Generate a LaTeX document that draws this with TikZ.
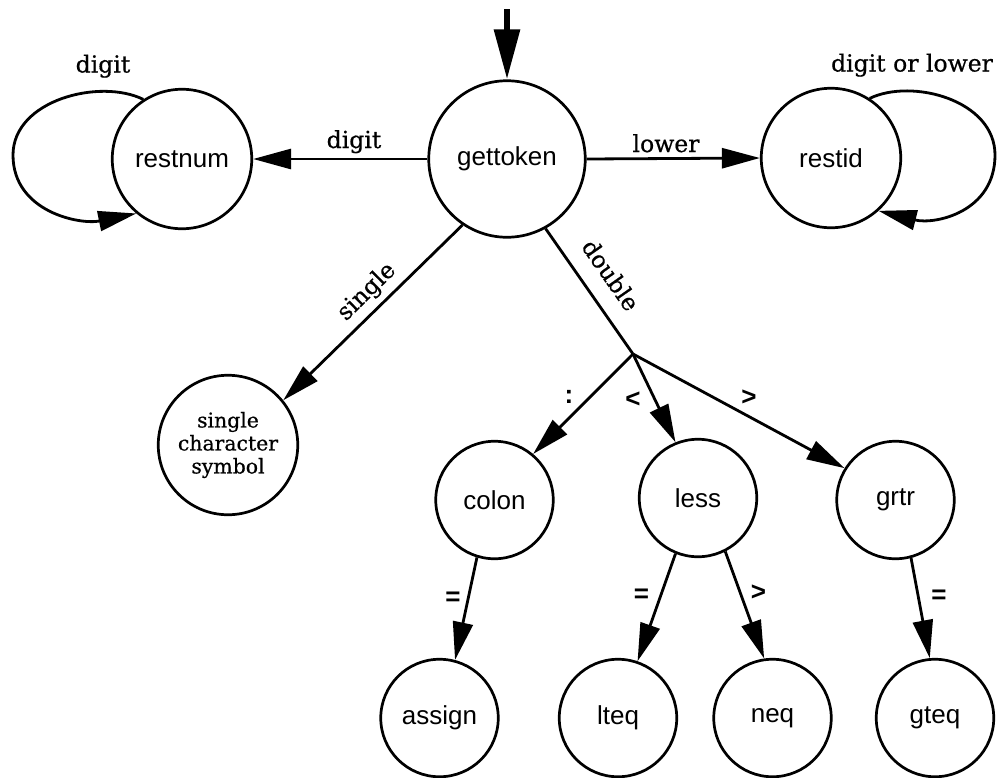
\documentclass[tikz,border=0pt]{standalone}
\usepackage{fontspec}
\setmainfont{DejaVu Serif}
\newfontfamily\labfont{DejaVu Serif}[FakeBold=0.6]
\newfontfamily\helv{Liberation Sans}
\usetikzlibrary{arrows.meta}
\begin{document}
\begin{tikzpicture}[x=1pt,y=-1pt,
  st/.style={circle, draw, line width=2.7pt, inner sep=0pt, font=\helv\fontsize{26}{28}\selectfont},
  bigst/.style={st, minimum size=139.5pt},
  smallst/.style={st, minimum size=117.5pt},
  edge/.style={line width=2.8pt, -{Triangle[length=38pt,width=20pt]}},
  plain/.style={line width=2.8pt},
  lab/.style={font=\labfont\fontsize{23.5}{26}\selectfont},
  sym/.style={font=\helv\bfseries\fontsize{26}{28}\selectfont},
]
\useasboundingbox (0,0) rectangle (998,777);
% states
\node[st, minimum size=156.5pt] (gt) at (507,159) {gettoken};
\node[bigst] (rn) at (182,159) {restnum};
\node[bigst] (ri) at (831,158) {restid};
\node[bigst, font=\labfont\fontsize{20.4}{23}\selectfont, align=center] (sc) at (228,445) {single\\character\\symbol};
\node[smallst] (co) at (494.5,500) {colon};
\node[smallst] (le) at (698,498) {less};
\node[smallst] (gr) at (895.5,500) {grtr};
\node[smallst] (as) at (439.5,718) {assign};
\node[smallst] (lt) at (618,718) {lteq};
\node[smallst] (ne) at (772.5,718) {neq};
\node[smallst] (ge) at (935,718) {gteq};
\coordinate (top) at (507,9);
\coordinate (j) at (633,354);
% connectors
\draw[line width=6pt, -{Triangle[length=50pt,width=25pt]}] (top) -- (gt);
\draw[edge] (gt.west) -- (rn.east);
\draw[edge] (gt.east) -- (ri.west);
\draw[edge] (rn.123) .. controls (100,78) and (13,100) .. (13,155)
                     .. controls (13,212) and (80,225) .. (rn.230);
\draw[edge] (ri.57) .. controls (912,78) and (995,100) .. (995,155)
                    .. controls (995,212) and (935,225) .. (ri.312);
\draw[edge] (gt.236) -- (sc.39);
\draw[plain] (gt.299) -- (j);
\draw[edge] (j) -- (co.50);
\draw[edge] (j) -- (le.112);
\draw[edge] (j) -- (gr.148);
\draw[edge] (co.253) -- (as.75);
\draw[edge] (le.248) -- (lt.71);
\draw[edge] (le.297) -- (ne.98);
\draw[edge] (gr.285) -- (ge.95);
% labels
\node[lab, anchor=base] (l1) at (354,148) {digit};
\node[lab, anchor=base] (l2) at (666,152) {lower};
\node[lab, anchor=base] (l3) at (103,72.5) {digit};
\node[lab, anchor=base] (l4) at (912,71.5) {digit or lower};
\node[lab, rotate=44.5] (l5) at (367,292) {single};
\node[lab, rotate=-55] (l6) at (611,275) {double};
\node[sym] (s1) at (569,397) {:};
\node[sym] (s2) at (633,400) {<};
\node[sym] (s3) at (749,398) {>};
\node[sym] (s4) at (453,599) {=};
\node[sym] (s5) at (641.5,596) {=};
\node[sym] (s6) at (758.5,593) {>};
\node[sym] (s7) at (939,597) {=};
\end{tikzpicture}
\end{document}
